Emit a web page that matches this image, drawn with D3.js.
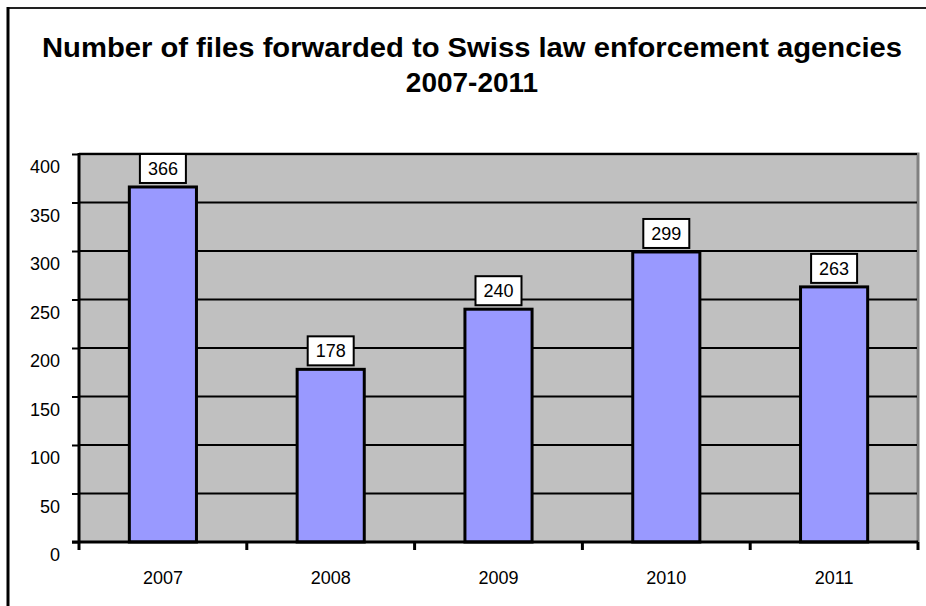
<!DOCTYPE html>
<html><head><meta charset="utf-8">
<script src="https://cdn.jsdelivr.net/npm/d3@7"></script>
<style>body{margin:0;background:#fff}svg{display:block}text{font-family:"Liberation Sans",Arial,sans-serif}</style>
</head><body>
<script>
const categories = ["2007","2008","2009","2010","2011"];
const values = [366,178,240,299,263];
const yTicks = [0,50,100,150,200,250,300,350,400];
const titleLines = ["Number of files forwarded to Swiss law enforcement agencies","2007-2011"];

const W=926,H=606;
const svg=d3.select("body").append("svg").attr("width",W).attr("height",H);
// outer frame
svg.append("line").attr("x1",8).attr("x2",W).attr("y1",8).attr("y2",8).attr("stroke","#222").attr("stroke-width",2);
svg.append("line").attr("x1",8).attr("x2",8).attr("y1",7).attr("y2",H).attr("stroke","#000").attr("stroke-width",3);

const L=79,R=918,T=154,B=542;
const x=d3.scaleBand().domain(categories).range([L,R]).paddingInner(0).paddingOuter(0);
const y=d3.scaleLinear().domain([0,400]).range([B,T]);

// title
svg.append("text").attr("x",472).attr("y",57).attr("text-anchor","middle").attr("font-size",28).attr("font-weight","bold")
  .attr("textLength",860).attr("lengthAdjust","spacingAndGlyphs").text(titleLines[0]);
svg.append("text").attr("x",472).attr("y",92).attr("text-anchor","middle").attr("font-size",28).attr("font-weight","bold").text(titleLines[1]);

// plot area
svg.append("rect").attr("x",L).attr("y",T).attr("width",R-L).attr("height",B-T).attr("fill","#C0C0C0");
svg.append("path").attr("d",`M${L},${T}H${R}V${B}`).attr("fill","none").attr("stroke","#808080").attr("stroke-width",3);

// gridlines
svg.append("g").selectAll("line").data(yTicks.filter(d=>d>0)).join("line")
  .attr("x1",L).attr("x2",R-1).attr("y1",d=>y(d)).attr("y2",d=>y(d)).attr("stroke","#000").attr("stroke-width",2);

// y axis
const ya=d3.axisLeft(y).tickValues(yTicks).tickSize(7).tickFormat(d3.format("d"));
const yg=svg.append("g").attr("transform",`translate(${L},0)`).call(ya);
yg.select(".domain").attr("stroke","#000").attr("stroke-width",3).attr("d",`M0,${T-1}V${B}`);
yg.selectAll(".tick line").attr("stroke","#000").attr("stroke-width",2);
yg.selectAll(".tick text").attr("font-size",18).attr("fill","#000").attr("x",-19).attr("dy","1.05em")
  .style("font-family","'Liberation Sans',Arial,sans-serif");

// bars
const bw=x.bandwidth()/2.5;
svg.append("g").selectAll("rect").data(values).join("rect")
  .attr("x",(d,i)=>x(categories[i])+x.bandwidth()/2-bw/2).attr("width",bw)
  .attr("y",d=>y(d)).attr("height",d=>B-y(d))
  .attr("fill","#9999FF").attr("stroke","#000").attr("stroke-width",3);

// x axis
const xa=d3.axisBottom(x).tickSize(0).tickFormat(d=>d);
const xg=svg.append("g").attr("transform",`translate(0,${B})`).call(xa);
xg.select(".domain").remove();
xg.selectAll(".tick text").attr("font-size",18).attr("fill","#000").attr("y",29.5).attr("dy","0.71em")
  .style("font-family","'Liberation Sans',Arial,sans-serif");
svg.append("line").attr("x1",L-7).attr("x2",R).attr("y1",B).attr("y2",B).attr("stroke","#000").attr("stroke-width",3);
const bounds=categories.map(c=>x(c)).concat([R]);
svg.append("g").selectAll("line").data(bounds).join("line")
  .attr("x1",d=>d).attr("x2",d=>d).attr("y1",B).attr("y2",B+8).attr("stroke","#000").attr("stroke-width",3);

// labels
const lg=svg.append("g").selectAll("g").data(values).join("g")
  .attr("transform",(d,i)=>`translate(${x(categories[i])+x.bandwidth()/2},${y(d)-4})`);
lg.append("rect").attr("x",-23).attr("y",-29).attr("width",46).attr("height",29).attr("fill","#fff").attr("stroke","#000").attr("stroke-width",2);
lg.append("text").attr("y",-8).attr("text-anchor","middle").attr("font-size",18).text(d=>d);
</script>
</body></html>
